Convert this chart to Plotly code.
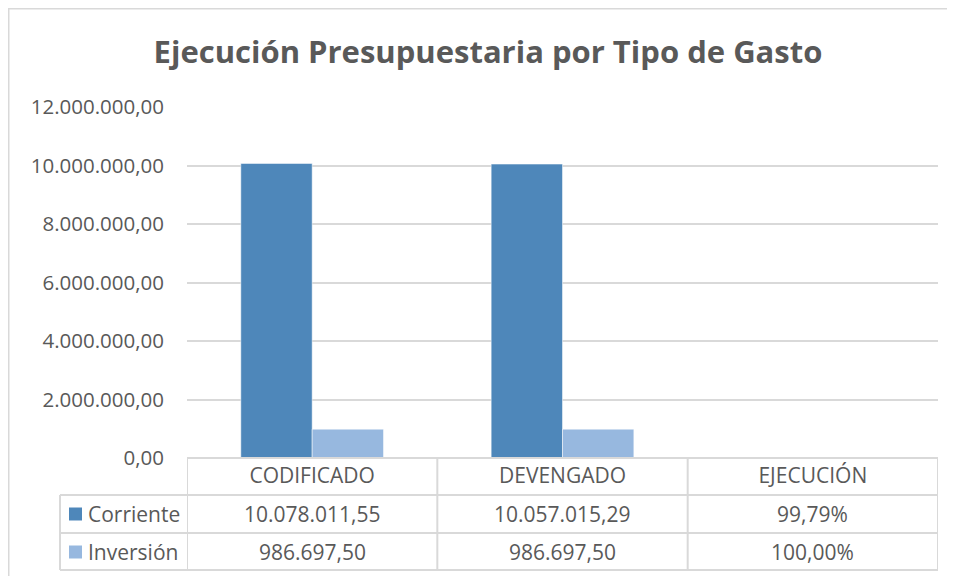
import plotly.graph_objects as go

categories = ["CODIFICADO", "DEVENGADO", "EJECUCIÓN"]
series_names = ["Corriente", "Inversión"]
corriente = [10078011.55, 10057015.29, 0.9979]
inversion = [986697.50, 986697.50, 1.0]
table_corriente = ["10.078.011,55", "10.057.015,29", "99,79%"]
table_inversion = ["986.697,50", "986.697,50", "100,00%"]
tick_vals = [0, 2000000, 4000000, 6000000, 8000000, 10000000, 12000000]
tick_text = ["0,00", "2.000.000,00", "4.000.000,00", "6.000.000,00",
             "8.000.000,00", "10.000.000,00", "12.000.000,00"]
colors = ["#4E87BA", "#97B8DF"]

FONT = "Open Sans"
GREY = "#595959"
LINE = "#d9d9d9"
FS = 21

# the page body adds an 8px offset; work in screen pixels and subtract it
O = 8
W, H = 955 - O, 576 - O
L, T = 187 - O, 107 - O
R = W - (938 - O)
B = H - (458 - O)
pw, ph = W - L - R, H - T - B


def py(pix):  # screen pixel y -> paper y
    return (H - B - (pix - O)) / ph


def px(pix):  # screen pixel x -> paper x
    return ((pix - O) - L) / pw


fig = go.Figure()
for name, vals, col in zip(series_names, [corriente, inversion], colors):
    fig.add_trace(go.Bar(x=categories, y=vals, name=name,
                         marker=dict(color=col, line=dict(color="white", width=0.5)),
                         showlegend=False))

fig.update_layout(
    width=W, height=H,
    margin=dict(l=L, r=R, t=T, b=B),
    paper_bgcolor="white", plot_bgcolor="white",
    barmode="group", bargap=0.43, bargroupgap=0,
    font=dict(family=FONT, color=GREY, size=FS),
    title=dict(text="<b>Ejecución Presupuestaria por Tipo de Gasto</b>",
               x=(488 - O) / W, xanchor="center", y=1 - (52 - O) / H, yanchor="middle",
               font=dict(size=31, color=GREY, family=FONT)),
)
fig.update_yaxes(range=[0, 12010000], tickvals=tick_vals, ticktext=tick_text,
                 showgrid=True, gridcolor=LINE, gridwidth=1.5, zeroline=False,
                 showline=False, ticks="", ticklabelstandoff=22,
                 tickfont=dict(size=20.5, color=GREY))
fig.update_xaxes(showline=False, ticks="", tickfont=dict(size=FS, color=GREY),
                 ticklabelstandoff=3, range=[-0.5, 2.5])

shapes = []
# chart border: only the top and left edges are inside the window
shapes.append(dict(type="line", xref="paper", yref="paper",
                   x0=px(8), x1=px(960), y0=py(8.75), y1=py(8.75),
                   line=dict(color=LINE, width=1.5)))
shapes.append(dict(type="line", xref="paper", yref="paper",
                   x0=px(8.75), x1=px(8.75), y0=py(8), y1=py(580),
                   line=dict(color=LINE, width=1.5)))
# table horizontal lines
y_rows = [458, 495, 533, 570]
for i, yp in enumerate(y_rows):
    shapes.append(dict(type="line", xref="paper", yref="paper",
                       x0=px(60) if i > 0 else 0, x1=1, y0=py(yp), y1=py(yp),
                       line=dict(color=LINE, width=2)))
# vertical lines
for xv in [-0.5, 0.5, 1.5, 2.5]:
    shapes.append(dict(type="line", xref="x", yref="paper",
                       x0=xv, x1=xv, y0=py(458), y1=py(570),
                       line=dict(color=LINE, width=2)))
shapes.append(dict(type="line", xref="paper", yref="paper",
                   x0=px(60), x1=px(60), y0=py(495), y1=py(570),
                   line=dict(color=LINE, width=2)))
# legend keys in the data table
row_centers = [514, 552]
for rc, col in zip(row_centers, colors):
    shapes.append(dict(type="rect", xref="paper", yref="paper",
                       x0=px(69), x1=px(82), y0=py(rc - 6.5), y1=py(rc + 6.5),
                       fillcolor=col, line=dict(width=0)))
fig.update_layout(shapes=shapes)

ann = []
for rc, vals in zip(row_centers, [table_corriente, table_inversion]):
    for cat, v in zip(categories, vals):
        ann.append(dict(x=cat, y=py(rc), xref="x", yref="paper", text=v,
                        showarrow=False, xanchor="center", yanchor="middle",
                        font=dict(size=FS, color=GREY)))
for rc, name in zip(row_centers, series_names):
    ann.append(dict(x=px(86), y=py(rc), xref="paper", yref="paper",
                    text=name, showarrow=False, xanchor="left", yanchor="middle",
                    font=dict(size=FS, color=GREY)))
fig.update_layout(annotations=ann)

fig.write_html("out.html")
